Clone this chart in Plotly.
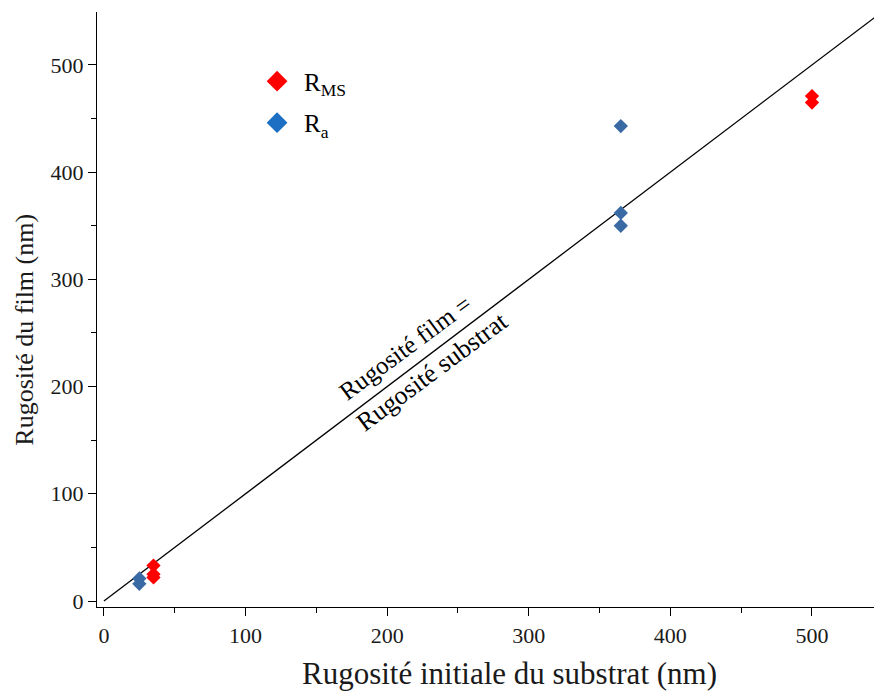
import plotly.graph_objects as go

# Data
rms_x = [35, 35, 35, 500, 500]
rms_y = [33, 25, 22, 471, 465]
ra_x = [25, 25, 365, 365, 365]
ra_y = [21, 16, 443, 362, 350]
ident = [0, 550]

x_ticks = [0, 100, 200, 300, 400, 500]
y_ticks = [0, 100, 200, 300, 400, 500]

FONT = "Liberation Serif, Times New Roman, serif"
RED = "#ff0000"
BLUE_PTS = "#3a6aa3"
BLUE_LEG = "#1c6fc2"

fig = go.Figure()

# identity line
fig.add_trace(go.Scatter(x=ident, y=ident, mode="lines",
                         line=dict(color="black", width=1.3), showlegend=False,
                         hoverinfo="skip"))

fig.add_trace(go.Scatter(x=rms_x, y=rms_y, mode="markers", showlegend=False,
                         marker=dict(symbol="diamond", size=11, color=RED)))
fig.add_trace(go.Scatter(x=ra_x, y=ra_y, mode="markers", showlegend=False,
                         marker=dict(symbol="diamond", size=11, color=BLUE_PTS)))

# legend entries
fig.add_trace(go.Scatter(x=[None], y=[None], mode="markers", name="R<sub>MS</sub>",
                         legendgroup="rms",
                         marker=dict(symbol="diamond", size=16, color=RED)))
fig.add_trace(go.Scatter(x=[None], y=[None], mode="markers", name="R<sub>a</sub>",
                         legendgroup="ra",
                         marker=dict(symbol="diamond", size=16, color=BLUE_LEG)))

angle = -36.5
fig.add_annotation(x=213, y=236, text="Rugosité film =", showarrow=False,
                   textangle=angle, xanchor="center", yanchor="middle",
                   font=dict(family=FONT, size=25, color="black"))
fig.add_annotation(x=232, y=214, text="Rugosité substrat", showarrow=False,
                   textangle=angle, xanchor="center", yanchor="middle",
                   font=dict(family=FONT, size=26, color="black"))

# axis titles (placed as annotations to match the reference offsets)
fig.add_annotation(xref="paper", yref="paper", x=0.5315, y=-0.111,
                   text="Rugosité initiale du substrat (nm)", showarrow=False,
                   xanchor="center", yanchor="middle",
                   font=dict(family=FONT, size=31, color="#1a1a1a"))
fig.add_annotation(xref="paper", yref="paper", x=-0.0927, y=0.466,
                   text="Rugosité du film (nm)", showarrow=False, textangle=-90,
                   xanchor="center", yanchor="middle",
                   font=dict(family=FONT, size=26, color="#1a1a1a"))

axis_common = dict(showgrid=False, zeroline=False, showline=True, linecolor="black",
                   linewidth=1.3, ticks="outside", ticklen=8, tickwidth=1.3,
                   tickcolor="black", automargin=False,
                   tickfont=dict(family=FONT, size=22, color="#1a1a1a"),
                   minor=dict(ticks="outside", ticklen=5, tickwidth=1.3,
                              tickcolor="black", dtick=50, showgrid=False))

fig.update_xaxes(range=[-4.9, 543.8], tickvals=x_ticks, **axis_common)
fig.update_yaxes(range=[-5.6, 549.4], tickvals=y_ticks, **axis_common)

fig.update_layout(
    width=874, height=692,
    margin=dict(l=97, r=0, t=12, b=85),
    plot_bgcolor="white", paper_bgcolor="white",
    font=dict(family=FONT, color="black"),
    legend=dict(x=0.197, y=0.922, xanchor="left", yanchor="top",
                bgcolor="rgba(0,0,0,0)", font=dict(family=FONT, size=25),
                tracegroupgap=6, itemwidth=44),
)

fig.write_html("out.html", config={"displayModeBar": False},
               post_script="document.body.style.margin='0';document.body.style.overflow='hidden';")
